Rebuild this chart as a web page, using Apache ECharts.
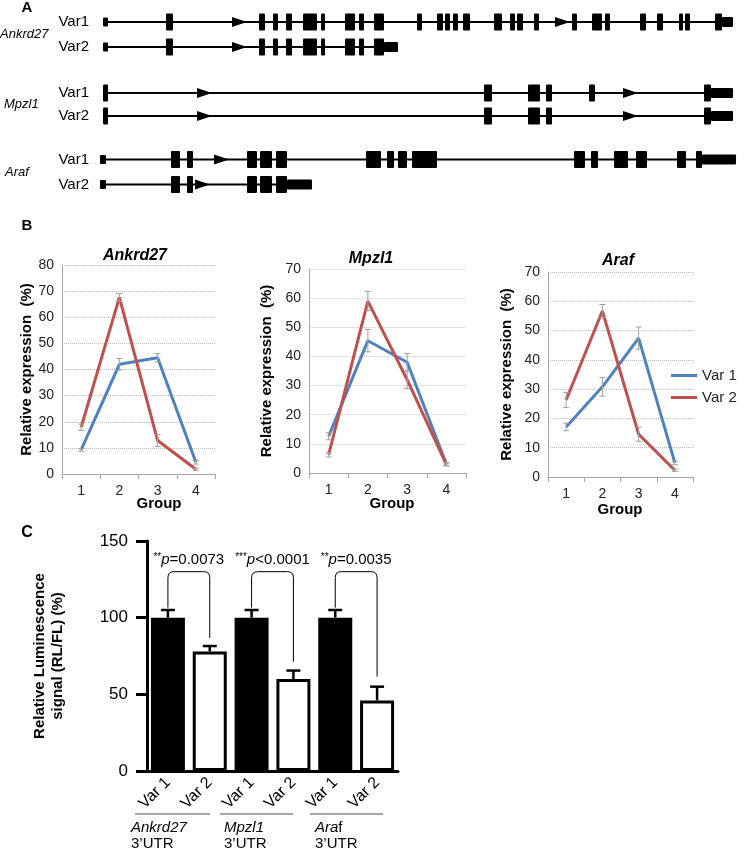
<!DOCTYPE html>
<html>
<head>
<meta charset="utf-8">
<script src="https://cdn.jsdelivr.net/npm/echarts@6/dist/echarts.min.js"></script>
<style>
html, body { margin: 0; padding: 0; background: #fff; }
#main { width: 748px; height: 851px; }
</style>
</head>
<body>
<div id="main"></div>
<script>
// ---- panel A: transcript maps (positions in picture units; s = start block, e = exon, u = UTR)
var ankVar1Exons = [[103,108,'s'],[166,173,'e'],[259,265,'e'],[273,278,'e'],[286,292,'e'],[303,317,'e'],[321,325,'e'],[345,355,'e'],[359,364,'e'],[374,384,'e'],[417,422,'e'],[437,443,'e'],[445,450,'e'],[453,458,'e'],[463,470,'e'],[494,502,'e'],[510,515,'e'],[517,523,'e'],[534,539,'e'],[572,577,'e'],[592,602,'e'],[605,610,'e'],[640,646,'e'],[657,663,'e'],[679,683,'e'],[685,690,'e'],[715,722,'e'],[722,733,'u']];
var ankVar1Arrows = [232, 555];
var ankVar2Exons = [[103,108,'s'],[166,173,'e'],[259,265,'e'],[273,278,'e'],[286,292,'e'],[303,317,'e'],[321,325,'e'],[345,355,'e'],[359,364,'e'],[374,384,'e'],[384,398,'u']];
var ankVar2Arrows = [232];
var mpzVar1Exons = [[103,108,'e'],[484,492,'e'],[528,540,'e'],[546,552,'e'],[589,595,'e'],[704,711,'e'],[711,733,'u']];
var mpzVar1Arrows = [197, 623];
var mpzVar2Exons = [[103,108,'e'],[484,492,'e'],[528,540,'e'],[546,552,'e'],[704,711,'e'],[711,733,'u']];
var mpzVar2Arrows = [197, 623];
var arafVar1Exons = [[100,106,'s'],[171,180,'e'],[187,193,'e'],[247,257,'e'],[260,272,'e'],[276,287,'e'],[366,381,'e'],[387,394,'e'],[398,407,'e'],[412,437,'e'],[574,585,'e'],[591,598,'e'],[614,628,'e'],[636,647,'e'],[677,686,'e'],[696,702,'e'],[702,736,'u']];
var arafVar1Arrows = [214];
var arafVar2Exons = [[100,106,'s'],[171,180,'e'],[187,193,'e'],[247,257,'e'],[260,272,'e'],[276,287,'e'],[287,312,'u']];
var arafVar2Arrows = [195];
var trackRows = ['Var1', 'Var2'];

// ---- panel B: relative expression (%) by group
var groups = ['1', '2', '3', '4'];
var ankVar1 = [9.2, 42, 44.5, 4.5];
var ankVar1Err = [0.5, 2.2, 1.6, 0.7];
var ankVar2 = [17.9, 67.6, 12.8, 1.8];
var ankVar2Err = [1.2, 1.5, 2.3, 0.4];
var mpzVar1 = [12.6, 45.4, 38, 3.1];
var mpzVar1Err = [1.2, 3.8, 3, 0.5];
var mpzVar2 = [6.3, 59, 32, 2.9];
var mpzVar2Err = [0.8, 3.3, 3, 0.5];
var arafVar1 = [17.1, 30.8, 47.4, 4.8];
var arafVar1Err = [1.3, 3.2, 3.8, 0.6];
var arafVar2 = [26.3, 56.7, 14.6, 2.3];
var arafVar2Err = [2.6, 2.2, 2.4, 0.4];

// ---- panel C: luciferase reporter
var lucCats = ['Ankrd27 Var 1', 'Ankrd27 Var 2', 'Mpzl1 Var 1', 'Mpzl1 Var 2', 'Araf Var 1', 'Araf Var 2'];
var lucValues = [100, 78, 100, 60, 100, 46];
var lucErr = [5, 3.5, 5, 5.5, 5, 9];
var lucPairs = [[0, 1], [2, 3], [4, 5]];
var bracketTop = 130;
var bracketLeftFoot = [106.5, 106.5, 106.5];
var bracketRightFoot = [86.8, 71.3, 61.5];
var pStars = ['**', '***', '**'];
var pText = ['=0.0073', '<0.0001', '=0.0035'];
var pLabelY = 137.6;

var FONT = '"Liberation Sans", Arial, sans-serif';
var BLUE = '#4F81BD';
var RED = '#C0504D';
var KIND = { s: 1, e: 2, u: 3 };

function trackData(rows) {
  var out = [];
  rows.forEach(function (r, i) {
    var ex = r[0];
    out.push([ex[0][0], ex[ex.length - 1][1], i, 0]);
  });
  rows.forEach(function (r, i) {
    r[1].forEach(function (a) { out.push([a, a + 15, i, 4]); });
    r[0].forEach(function (e) { out.push([e[0], e[1], i, KIND[e[2]]]); });
  });
  return out;
}

function renderTrack(params, api) {
  var p0 = api.coord([api.value(0), api.value(2)]);
  var p1 = api.coord([api.value(1), api.value(2)]);
  var kind = api.value(3);
  var cy = p0[1];
  if (kind === 0) {
    return { type: 'line', shape: { x1: p0[0], y1: cy, x2: p1[0], y2: cy }, style: { stroke: '#000', lineWidth: 2 } };
  }
  if (kind === 4) {
    return { type: 'polygon', shape: { points: [[p0[0], cy - 5], [p1[0], cy], [p0[0], cy + 5]] }, style: { fill: '#000' } };
  }
  var h = kind === 2 ? 17 : (kind === 3 ? 10 : 9);
  return { type: 'rect', shape: { x: p0[0], y: cy - h / 2, width: p1[0] - p0[0], height: h, r: 1 }, style: { fill: '#000' } };
}

function errData(vals, errs) {
  return vals.map(function (v, i) { return [i, v, errs[i]]; });
}

function renderErr(capHalf, color, width, upOnly) {
  return function (params, api) {
    var c = api.value(0), v = api.value(1), e = api.value(2);
    var top = api.coord([c, v + e]);
    var bot = api.coord([c, upOnly ? v : v - e]);
    var st = { stroke: color, lineWidth: width };
    var children = [
      { type: 'line', shape: { x1: top[0], y1: top[1], x2: bot[0], y2: bot[1] }, style: st },
      { type: 'line', shape: { x1: top[0] - capHalf, y1: top[1], x2: top[0] + capHalf, y2: top[1] }, style: st }
    ];
    if (!upOnly) {
      children.push({ type: 'line', shape: { x1: bot[0] - capHalf, y1: bot[1], x2: bot[0] + capHalf, y2: bot[1] }, style: st });
    }
    return { type: 'group', children: children };
  };
}

function renderBracket(params, api) {
  var i = params.dataIndex;
  var l = api.value(0), r = api.value(1);
  var a = api.coord([l, api.value(3)]);
  var t = api.coord([l, api.value(2)]);
  var b = api.coord([r, api.value(4)]);
  var lab = api.coord([l, api.value(5)]);
  var rad = 6;
  var x1 = a[0], x2 = b[0], yt = t[1];
  var path = 'M' + x1 + ' ' + a[1] + ' L' + x1 + ' ' + (yt + rad) +
    ' Q' + x1 + ' ' + yt + ' ' + (x1 + rad) + ' ' + yt +
    ' L' + (x2 - rad) + ' ' + yt + ' Q' + x2 + ' ' + yt + ' ' + x2 + ' ' + (yt + rad) +
    ' L' + x2 + ' ' + b[1];
  return {
    type: 'group',
    children: [
      { type: 'path', shape: { pathData: path }, style: { stroke: '#000', lineWidth: 1, fill: null } },
      {
        type: 'text',
        x: (x1 + x2) / 2, y: lab[1],
        style: {
          text: '{s|' + pStars[i] + '}{i|p}{n|' + pText[i] + '}',
          align: 'center', verticalAlign: 'middle',
          rich: {
            s: { fontSize: 10, fontFamily: FONT, fill: '#000', verticalAlign: 'top', padding: [0, 0, 6, 0] },
            i: { fontSize: 15, fontFamily: FONT, fontStyle: 'italic', fill: '#000' },
            n: { fontSize: 15, fontFamily: FONT, fill: '#000' }
          }
        }
      }
    ]
  };
}

var bracketData = lucPairs.map(function (p, i) {
  return [p[0], p[1], bracketTop, bracketLeftFoot[i], bracketRightFoot[i], pLabelY];
});

// grid layout
var grids = [
  { left: 95, top: 9.5, width: 645, height: 50 },
  { left: 95, top: 81.5, width: 645, height: 46 },
  { left: 95, top: 147, width: 645, height: 50 },
  { left: 62, top: 265, width: 153, height: 209 },
  { left: 309, top: 269, width: 157, height: 204 },
  { left: 548, top: 272, width: 145, height: 205 },
  { left: 147, top: 541, width: 251, height: 230 }
];
grids.forEach(function (g) { g.outerBoundsMode = 'none'; });

var xAxes = [], yAxes = [];
for (var g = 0; g < 3; g++) {
  xAxes.push({ gridIndex: g, type: 'value', min: 95, max: 740, show: false });
  yAxes.push({
    gridIndex: g, type: 'category', data: trackRows, inverse: true,
    axisLine: { show: false }, axisTick: { show: false }, splitLine: { show: false },
    axisLabel: { fontSize: 15, fontFamily: FONT, color: '#000', margin: 6 }
  });
}
var bMax = [80, 70, 70];
var bGap = [27, 35, 34];
var bSplit = ['dotted', 'solid', 'dotted'];
var bSplitColor = ['#bdbdbd', '#e2e2e2', '#bdbdbd'];
for (var k = 0; k < 3; k++) {
  xAxes.push({
    gridIndex: 3 + k, type: 'category', data: groups,
    axisLine: { lineStyle: { color: '#a6a6a6', width: 1 } },
    axisTick: { show: true, length: 5, lineStyle: { color: '#a6a6a6' } },
    axisLabel: { fontSize: 14, fontFamily: FONT, color: '#222', margin: 10 }
  });
  yAxes.push({
    gridIndex: 3 + k, type: 'value', min: 0, max: bMax[k], interval: 10,
    name: 'Relative expression  (%)', nameLocation: 'middle', nameGap: bGap[k],
    nameTextStyle: { fontSize: 15, fontWeight: 'bold', fontFamily: FONT, color: '#000' },
    axisLine: { show: true, lineStyle: { color: '#a6a6a6', width: 1 } },
    axisTick: { show: false },
    axisLabel: { fontSize: 14, fontFamily: FONT, color: '#222', margin: 8 },
    splitLine: { lineStyle: { color: bSplitColor[k], type: bSplit[k], width: 1 } }
  });
}
xAxes.push({
  gridIndex: 6, type: 'category', data: lucCats,
  axisLine: { lineStyle: { color: '#000', width: 3 } },
  axisTick: { show: false },
  axisLabel: {
    interval: 0, rotate: 45, fontSize: 16, fontFamily: FONT, color: '#000', margin: 9,
    formatter: function (v) { return v.split(' ').slice(1).join(' '); }
  }
});
yAxes.push({
  gridIndex: 6, type: 'value', min: 0, max: 150, interval: 50,
  name: 'Relative Luminescence\nsignal (RL/FL) (%)', nameLocation: 'middle', nameGap: 80,
  nameTextStyle: { fontSize: 15, fontWeight: 'bold', fontFamily: FONT, color: '#000', lineHeight: 18, align: 'center' },
  axisLine: { show: true, lineStyle: { color: '#000', width: 3 } },
  axisTick: { show: true, length: 11, lineStyle: { color: '#000', width: 3 } },
  axisLabel: { fontSize: 17, fontFamily: FONT, color: '#000', margin: 19 },
  splitLine: { show: false }
});

var series = [];
var trackSets = [
  [[ankVar1Exons, ankVar1Arrows], [ankVar2Exons, ankVar2Arrows]],
  [[mpzVar1Exons, mpzVar1Arrows], [mpzVar2Exons, mpzVar2Arrows]],
  [[arafVar1Exons, arafVar1Arrows], [arafVar2Exons, arafVar2Arrows]]
];
trackSets.forEach(function (rows, g) {
  series.push({
    type: 'custom', xAxisIndex: g, yAxisIndex: g, renderItem: renderTrack,
    encode: { x: [0, 1], y: 2 }, data: trackData(rows), silent: true
  });
});

var bSets = [
  [ankVar1, ankVar1Err, ankVar2, ankVar2Err],
  [mpzVar1, mpzVar1Err, mpzVar2, mpzVar2Err],
  [arafVar1, arafVar1Err, arafVar2, arafVar2Err]
];
bSets.forEach(function (s, k) {
  var ax = 3 + k;
  series.push({ name: 'Var 1', type: 'line', xAxisIndex: ax, yAxisIndex: ax, data: s[0], showSymbol: false, symbol: 'none', lineStyle: { color: BLUE, width: 3 }, itemStyle: { color: BLUE }, z: 2 });
  series.push({ name: 'Var 2', type: 'line', xAxisIndex: ax, yAxisIndex: ax, data: s[2], showSymbol: false, symbol: 'none', lineStyle: { color: RED, width: 3 }, itemStyle: { color: RED }, z: 2 });
  series.push({ type: 'custom', xAxisIndex: ax, yAxisIndex: ax, renderItem: renderErr(3, '#a0a0a0', 1, false), encode: { x: 0, y: [1, 2] }, data: errData(s[0], s[1]).concat(errData(s[2], s[3])), z: 3, silent: true });
});

series.push({
  type: 'bar', xAxisIndex: 6, yAxisIndex: 6, barWidth: 34,
  data: lucValues.map(function (v, i) {
    return { value: v, itemStyle: { color: i % 2 === 0 ? '#000' : '#fff', borderColor: '#000', borderWidth: 3 } };
  })
});
series.push({ type: 'custom', xAxisIndex: 6, yAxisIndex: 6, renderItem: renderErr(7, '#000', 2.5, true), encode: { x: 0, y: [1, 2] }, data: errData(lucValues, lucErr), z: 1, silent: true });
series.push({ type: 'custom', xAxisIndex: 6, yAxisIndex: 6, renderItem: renderBracket, encode: { x: [0, 1], y: [2, 3, 4] }, data: bracketData, silent: true });

function txt(x, y, text, size, weight, style, align) {
  return {
    type: 'text', x: x, y: y, silent: true,
    style: { text: text, fontSize: size, fontWeight: weight || 'normal', fontStyle: style || 'normal', fontFamily: FONT, fill: '#000', align: align || 'left', verticalAlign: 'middle' }
  };
}
function hline(x1, x2, y) {
  return { type: 'line', silent: true, shape: { x1: x1, y1: y, x2: x2, y2: y }, style: { stroke: '#8a8a8a', lineWidth: 1.5 } };
}

var graphics = [
  txt(27, 8, 'A', 15, 'bold', null, 'center'),
  txt(27, 226, 'B', 15, 'bold', null, 'center'),
  txt(27, 533, 'C', 16, 'bold', null, 'center'),
  txt(0, 34, 'Ankrd27', 13, null, 'italic'),
  txt(4, 104, 'Mpzl1', 13, null, 'italic'),
  txt(5, 172, 'Araf', 13, null, 'italic'),
  txt(135, 256, 'Ankrd27', 16, 'bold', 'italic', 'center'),
  txt(371, 259, 'Mpzl1', 16, 'bold', 'italic', 'center'),
  txt(618, 261, 'Araf', 16, 'bold', 'italic', 'center'),
  txt(159, 504, 'Group', 15, 'bold', null, 'center'),
  txt(392, 504, 'Group', 15, 'bold', null, 'center'),
  txt(620, 510, 'Group', 15, 'bold', null, 'center'),
  hline(135, 210, 814), hline(220, 293, 814), hline(310, 383, 814),
  txt(131, 828, 'Ankrd27', 15, null, 'italic'),
  txt(131, 844, '3\u2019UTR', 15),
  txt(224, 828, 'Mpzl1', 15, null, 'italic'),
  txt(224, 844, '3\u2019UTR', 15),
  {
    type: 'text', x: 315, y: 828, silent: true,
    style: { text: '{i|Ara}{n|f}', verticalAlign: 'middle', rich: { i: { fontSize: 15, fontStyle: 'italic', fontFamily: FONT, fill: '#000' }, n: { fontSize: 15, fontFamily: FONT, fill: '#000' } } }
  },
  txt(315, 844, '3\u2019UTR', 15)
];

var chart = echarts.init(document.getElementById('main'), null, { renderer: 'canvas' });
chart.setOption({
  backgroundColor: '#fff',
  animation: false,
  grid: grids,
  xAxis: xAxes,
  yAxis: yAxes,
  legend: {
    data: ['Var 1', 'Var 2'], orient: 'vertical', left: 666, top: 363,
    icon: 'rect', itemWidth: 26, itemHeight: 3, itemGap: 7,
    textStyle: { fontSize: 15, fontFamily: FONT, color: '#222' },
    selectedMode: false
  },
  series: series,
  graphic: graphics
});
</script>
</body>
</html>
